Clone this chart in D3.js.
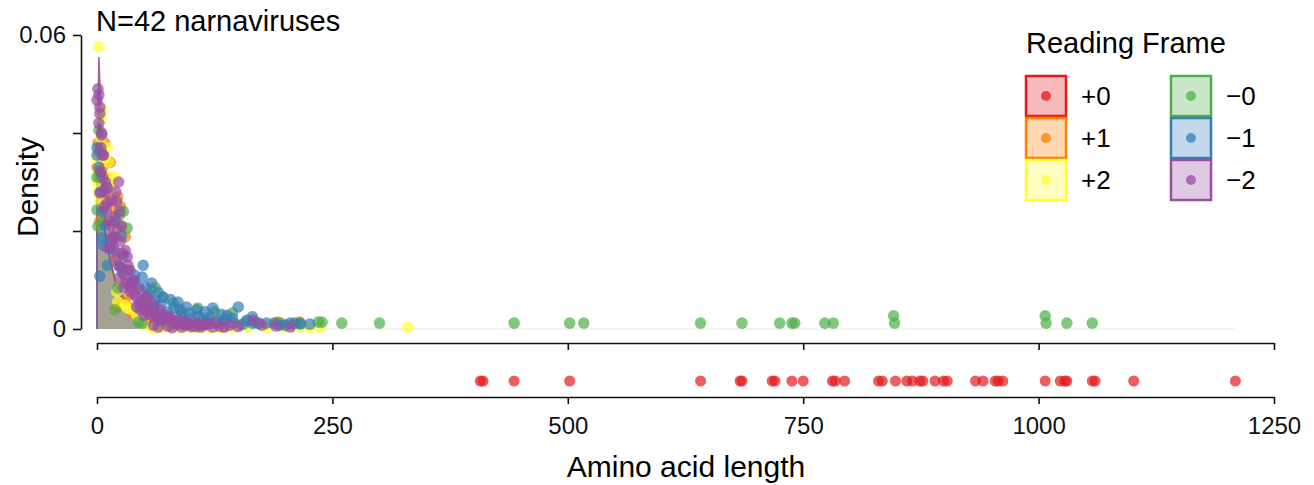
<!DOCTYPE html>
<html>
<head>
<meta charset="utf-8">
<title>Amino acid length density by reading frame</title>
<style>
  body { margin: 0; background: #fff; }
  svg { font-family: "Liberation Sans", Arial, Helvetica, sans-serif; }
</style>
</head>
<body>
<script src="https://cdn.jsdelivr.net/npm/d3@7"></script>
<script>
  // page size
  var width = 1314, height = 485;

  // reading frames (legend order) and their colours
  var frameLabels = ["+0", "+1", "+2", "\u22120", "\u22121", "\u22122"];
  var frameColors = ["#e41a1c", "#ff7f00", "#ffff33", "#4daf4a", "#377eb8", "#984ea3"];

  // tick values
  var xTicks = [0, 250, 500, 750, 1000, 1250];
  var yTicks = [0, 0.02, 0.04, 0.06];

  // +0 frame: amino acid lengths (lower strip)
  var plusZeroLengths = [407, 410, 443, 502, 641, 683, 685, 717, 720, 738, 750, 781, 784, 794,
    830, 834, 848, 860, 866, 874, 877, 890, 899, 903, 933, 941, 954, 957, 962,
    1007, 1023, 1028, 1030, 1057, 1060, 1101, 1209];

  // other frames: [length, density]
  var plusOnePoints = [[0, 0.033], [3, 0.032], [2, 0.036], [7, 0.029], [8, 0.038], [10, 0.031], [11, 0.034],
    [14, 0.034], [5, 0.027], [16, 0.024], [17, 0.0216], [26, 0.021], [30, 0.0188], [21, 0.0045],
    [24, 0.0053], [30, 0.0053], [37, 0.0033], [45, 0.0022], [55, 0.0016], [60, 0.0012], [80, 0.0006],
    [106, 0.0004], [134, 0.0004], [150, 0.0008], [191, 0.0012], [192, 0.0014], [208, 0.0008], [215, 0.0014],
    [4, 0.036], [6, 0.033], [9, 0.028], [12, 0.026], [3, 0.022], [18, 0.019], [1, 0.038], [13, 0.03],
    [20, 0.014], [33, 0.0068], [22, 0.027], [25, 0.025]];

  var plusTwoPoints = [[2, 0.0576], [6, 0.0447], [5, 0.043], [11, 0.037], [0, 0.0345], [12, 0.034],
    [16, 0.029], [0, 0.030], [3, 0.026], [22, 0.0055], [21, 0.0076], [32, 0.0043], [30, 0.0049],
    [42, 0.0029], [46, 0.0022], [59, 0.0002], [62, 0.0001], [80, 0.0002], [100, 0.0003], [120, 0.0002],
    [144, 0.0002], [160, 0.0003], [180, 0.0002], [197, 0.0002], [216, 0.0004], [226, 0.0002],
    [237, 0.0004], [330, 0.0004], [4, 0.039], [8, 0.035], [14, 0.031], [1, 0.028], [9, 0.024],
    [18, 0.02], [26, 0.0095], [36, 0.004], [50, 0.001], [70, 0.0003], [90, 0.0002], [110, 0.0003],
    [130, 0.0002], [19, 0.031]];

  var minusZeroPoints = [[2, 0.0406], [0, 0.031], [3, 0.031], [0, 0.0243], [1, 0.021], [24, 0.0233],
    [32, 0.0206], [19, 0.0039], [22, 0.0084], [48, 0.0012], [44, 0.0014], [58, 0.008], [62, 0.0084],
    [70, 0.0065], [81, 0.0053], [107, 0.0043], [125, 0.0035], [144, 0.0033], [170, 0.0012],
    [216, 0.0012], [235, 0.0014], [239, 0.0014], [260, 0.0012], [300, 0.0012], [443, 0.0012],
    [502, 0.0012], [517, 0.0012], [641, 0.0012], [685, 0.0012], [725, 0.0012], [738, 0.0012],
    [741, 0.0012], [773, 0.0012], [782, 0.0012], [846, 0.0027], [847, 0.0012], [1007, 0.0027],
    [1008, 0.0012], [1030, 0.0012], [1057, 0.0012], [4, 0.036], [10, 0.029], [7, 0.022], [15, 0.017],
    [27, 0.0115], [38, 0.0095], [50, 0.0045], [90, 0.0035], [135, 0.002], [160, 0.0016], [195, 0.0012],
    [28, 0.024]];

  var minusOnePoints = [[0, 0.037], [0, 0.0355], [5, 0.0186], [6, 0.024], [3, 0.0108], [11, 0.013],
    [7, 0.017], [24, 0.0127], [28, 0.015], [49, 0.013], [48, 0.0106], [40, 0.011], [58, 0.0094],
    [52, 0.0085], [65, 0.0075], [70, 0.0065], [78, 0.006], [86, 0.0055], [95, 0.0045], [106, 0.0039],
    [115, 0.0035], [123, 0.0043], [132, 0.003], [150, 0.0045], [144, 0.0022], [138, 0.0028],
    [159, 0.0018], [165, 0.0025], [172, 0.0012], [180, 0.0012], [188, 0.0012], [194, 0.0008],
    [205, 0.0012], [216, 0.001], [226, 0.001], [100, 0.0022], [90, 0.0028], [118, 0.0018],
    [128, 0.0014], [60, 0.0045], [75, 0.0035], [2, 0.033], [4, 0.028], [9, 0.021], [14, 0.018],
    [18, 0.016], [33, 0.012], [37, 0.0095], [44, 0.0085], [55, 0.007], [62, 0.0058], [68, 0.005],
    [82, 0.0042], [88, 0.004], [98, 0.0032], [108, 0.0026], [112, 0.002], [120, 0.0025], [135, 0.0018],
    [145, 0.0012], [155, 0.001], [165, 0.0012], [200, 0.0008], [210, 0.0012], [20, 0.022], [26, 0.019]];

  var minusTwoPoints = [[2, 0.0478], [0, 0.0467], [3, 0.0453], [1, 0.049], [5, 0.0396], [3, 0.044],
    [7, 0.0355], [6, 0.0355], [5, 0.040], [3, 0.0278], [11, 0.0288], [16, 0.0263], [21, 0.026],
    [8, 0.025], [19, 0.0229], [14, 0.0212], [11, 0.0257], [17, 0.0188], [19, 0.0186], [14, 0.0165],
    [12, 0.0165], [27, 0.0155], [32, 0.0147], [33, 0.013], [35, 0.012], [38, 0.010], [40, 0.0096],
    [46, 0.008], [51, 0.0063], [53, 0.0065], [59, 0.0053], [46, 0.0039], [55, 0.003], [67, 0.0039],
    [69, 0.0029], [72, 0.0018], [78, 0.0025], [85, 0.001], [88, 0.0018], [93, 0.0014], [96, 0.0012],
    [100, 0.0005], [109, 0.0008], [115, 0.0008], [123, 0.0004], [130, 0.0006], [141, 0.0008],
    [166, 0.0018], [205, 0.0004], [60, 0.0008], [65, 0.0004], [75, 0.0006], [80, 0.0003], [90, 0.0004],
    [50, 0.0028], [42, 0.0045], [25, 0.018], [30, 0.016], [22, 0.0205], [9, 0.030], [4, 0.032],
    [24, 0.0105], [28, 0.0085], [36, 0.0075], [45, 0.005], [55, 0.0045], [62, 0.0025], [70, 0.002],
    [82, 0.0013], [95, 0.0008], [105, 0.0012], [110, 0.0004], [118, 0.001], [125, 0.0012],
    [2, 0.042], [4, 0.037], [6, 0.031], [8, 0.028], [10, 0.024], [13, 0.022], [15, 0.019], [18, 0.0165],
    [20, 0.0145], [23, 0.013], [26, 0.0125], [29, 0.011], [31, 0.0095], [34, 0.0088], [37, 0.0082],
    [40, 0.007], [43, 0.0062], [47, 0.0055], [49, 0.0045], [52, 0.0038], [57, 0.0035], [61, 0.0032],
    [64, 0.0028], [66, 0.0018], [72, 0.0028], [76, 0.0022], [80, 0.0018], [84, 0.0016], [92, 0.0009],
    [98, 0.001], [103, 0.0006], [112, 0.0009], [135, 0.0004], [150, 0.0005], [175, 0.0008], [190, 0.0006],
    [24, 0.024], [26, 0.021], [20, 0.028], [23, 0.03]];

  // density curves per frame: [length, density]
  var plusOneCurve = [[0, 0], [0, 0.026], [2, 0.049], [4, 0.039], [6, 0.026], [9, 0.019], [14, 0.013],
    [22, 0.0074], [30, 0.0058], [40, 0.004], [50, 0.0021], [62, 0.0005], [80, 0.0001], [120, 0], [1208, 0]];
  var plusTwoCurve = [[0, 0], [0, 0.03], [2, 0.054], [4, 0.043], [6, 0.029], [9, 0.02], [14, 0.014],
    [22, 0.0076], [30, 0.0056], [40, 0.0041], [50, 0.002], [62, 0.0003], [80, 0.0001], [120, 0], [1208, 0]];
  var minusZeroCurve = [[0, 0], [0, 0.028], [2, 0.047], [4, 0.038], [6, 0.027], [9, 0.019], [14, 0.0135],
    [22, 0.0078], [30, 0.006], [40, 0.0043], [50, 0.0024], [62, 0.0006], [80, 0.0002], [120, 0], [1208, 0]];
  var minusOneCurve = [[0, 0], [0, 0.025], [2, 0.044], [4, 0.036], [6, 0.026], [9, 0.019], [14, 0.014],
    [22, 0.0082], [30, 0.0062], [40, 0.0046], [50, 0.0026], [62, 0.0008], [80, 0.0002], [120, 0], [1208, 0]];
  var minusTwoCurve = [[0, 0], [0, 0.032], [2, 0.0555], [4, 0.045], [6, 0.03], [9, 0.02], [14, 0.0142],
    [22, 0.0076], [30, 0.0055], [40, 0.0042], [50, 0.0022], [62, 0.0004], [80, 0.0001], [120, 0], [1208, 0]];

  // frames drawn in the upper panel, in drawing order
  var upperFrames = [
    {color: frameColors[1], points: plusOnePoints, curve: plusOneCurve},
    {color: frameColors[2], points: plusTwoPoints, curve: plusTwoCurve},
    {color: frameColors[3], points: minusZeroPoints, curve: minusZeroCurve},
    {color: frameColors[4], points: minusOnePoints, curve: minusOneCurve},
    {color: frameColors[5], points: minusTwoPoints, curve: minusTwoCurve}
  ];

  // scales
  var x = d3.scaleLinear().domain([0, 1250]).range([97, 1274]);
  var y = d3.scaleLinear().domain([0, 0.06]).range([329, 35]);
  var lowerY = 381;

  var svg = d3.select("body").append("svg")
    .attr("width", width)
    .attr("height", height);

  // density areas
  var area = d3.area()
    .x(function (d) { return x(d[0]); })
    .y0(y(0))
    .y1(function (d) { return y(d[1]); });
  var line = d3.line()
    .x(function (d) { return x(d[0]); })
    .y(function (d) { return y(d[1]); });

  svg.append("g").selectAll("path")
    .data(upperFrames)
    .enter().append("path")
    .attr("d", function (f) { return area(f.curve); })
    .attr("fill", function (f) { return f.color; })
    .attr("fill-opacity", 0.26);

  // faint baseline along the full curve range
  svg.append("path")
    .attr("d", line(minusTwoCurve))
    .attr("fill", "none")
    .attr("stroke", "#e6e6de")
    .attr("stroke-width", 1);

  // coloured curve outlines (visible part)
  svg.append("g").selectAll("path")
    .data(upperFrames)
    .enter().append("path")
    .attr("d", function (f) { return line(f.curve.slice(0, -1)); })
    .attr("fill", "none")
    .attr("stroke", function (f) { return f.color; })
    .attr("stroke-width", 1.5)
    .attr("stroke-opacity", 0.9);

  // points
  upperFrames.forEach(function (f) {
    svg.append("g").selectAll("circle")
      .data(f.points)
      .enter().append("circle")
      .attr("cx", function (d) { return x(d[0]); })
      .attr("cy", function (d) { return y(d[1]); })
      .attr("r", 5.8)
      .attr("fill", f.color)
      .attr("fill-opacity", 0.7);
  });

  // lower strip: +0 frame
  svg.append("g").selectAll("circle")
    .data(plusZeroLengths)
    .enter().append("circle")
    .attr("cx", function (d) { return x(d); })
    .attr("cy", lowerY)
    .attr("r", 5.5)
    .attr("fill", frameColors[0])
    .attr("fill-opacity", 0.7);

  // axes
  var yAxis = d3.axisLeft(y)
    .tickValues(yTicks)
    .tickSize(8)
    .tickSizeOuter(0)
    .tickPadding(7)
    .tickFormat(function (d) { return d === 0 ? "0" : (d === 0.06 ? "0.06" : ""); });
  svg.append("g")
    .attr("class", "axis")
    .attr("transform", "translate(81,0)")
    .call(yAxis);

  var xAxisUpper = d3.axisBottom(x).tickValues(xTicks).tickSize(7).tickSizeOuter(0).tickFormat("");
  svg.append("g")
    .attr("class", "axis")
    .attr("transform", "translate(0,343)")
    .call(xAxisUpper);

  var xAxisLower = d3.axisBottom(x).tickValues(xTicks).tickSize(7).tickSizeOuter(0)
    .tickPadding(13).tickFormat(d3.format("d"));
  svg.append("g")
    .attr("class", "axis")
    .attr("transform", "translate(0,397)")
    .call(xAxisLower);

  svg.selectAll(".axis path, .axis line")
    .attr("stroke", "#111")
    .attr("stroke-width", 1.6);
  svg.selectAll(".axis text")
    .attr("font-size", 24)
    .attr("font-family", "Liberation Sans, Arial, sans-serif")
    .attr("fill", "#111");

  // titles
  svg.append("text")
    .attr("x", 96)
    .attr("y", 31)
    .attr("font-size", 29)
    .text("N=42 narnaviruses");

  svg.append("text")
    .attr("text-anchor", "middle")
    .attr("x", 686)
    .attr("y", 477)
    .attr("font-size", 30)
    .text("Amino acid length");

  svg.append("text")
    .attr("text-anchor", "middle")
    .attr("transform", "translate(38,187) rotate(-90)")
    .attr("font-size", 30)
    .text("Density");

  // legend
  var legend = svg.append("g");
  legend.append("text")
    .attr("x", 1026)
    .attr("y", 53)
    .attr("font-size", 29)
    .text("Reading Frame");

  var boxSize = 40, rowStep = 42, colStep = 145;
  var items = legend.selectAll("g.item")
    .data(frameLabels)
    .enter().append("g")
    .attr("class", "item")
    .attr("transform", function (d, i) {
      return "translate(" + (1026 + Math.floor(i / 3) * colStep) + "," + (76 + (i % 3) * rowStep) + ")";
    });
  items.append("rect")
    .attr("width", boxSize)
    .attr("height", boxSize)
    .attr("fill", function (d, i) { return frameColors[i]; })
    .attr("fill-opacity", 0.3)
    .attr("stroke", function (d, i) { return frameColors[i]; })
    .attr("stroke-width", 2.5);
  items.append("circle")
    .attr("cx", boxSize / 2)
    .attr("cy", boxSize / 2)
    .attr("r", 5)
    .attr("fill", function (d, i) { return frameColors[i]; })
    .attr("fill-opacity", 0.75);
  items.append("text")
    .attr("x", boxSize + 15)
    .attr("y", boxSize / 2)
    .attr("dy", "0.36em")
    .attr("font-size", 26)
    .text(function (d) { return d; });
</script>
</body>
</html>
